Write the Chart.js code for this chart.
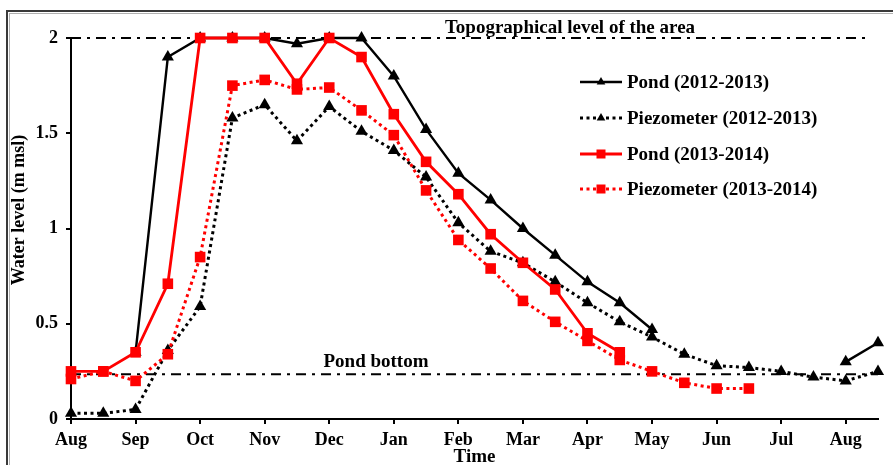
<!DOCTYPE html>
<html>
<head>
<meta charset="utf-8">
<style>
  html, body { margin: 0; padding: 0; background: #fff; }
  #wrap { width: 893px; height: 465px; }
</style>
<script src="https://cdn.jsdelivr.net/npm/chart.js@4/dist/chart.umd.min.js"></script>
</head>
<body>
<div id="wrap"><canvas id="c" width="893" height="465"></canvas></div>
<script>
// Half-month steps from August to the following August (0 = Aug, 24 = Aug)
const monthLabels = ['Aug', 'Sep', 'Oct', 'Nov', 'Dec', 'Jan', 'Feb', 'Mar', 'Apr', 'May', 'Jun', 'Jul', 'Aug'];
const yTicks = [0, 0.5, 1, 1.5, 2];

// Water levels (m msl), one value per half month, null where not measured
const pond1213  = [null, null, 0.35, 1.90, 2.00, 2.00, 2.00, 1.97, 2.00, 2.00, 1.80, 1.52, 1.29, 1.15, 1.00, 0.86, 0.72, 0.61, 0.47, null, null, null, null, null, 0.30, 0.40];
const piezo1213 = [0.03, 0.03, 0.05, 0.36, 0.59, 1.58, 1.65, 1.46, 1.64, 1.51, 1.41, 1.27, 1.03, 0.88, 0.82, 0.72, 0.61, 0.51, 0.43, 0.34, 0.28, 0.27, 0.25, 0.22, 0.20, 0.25];
const pond1314  = [0.25, 0.25, 0.35, 0.71, 2.00, 2.00, 2.00, 1.76, 2.00, 1.90, 1.60, 1.35, 1.18, 0.97, 0.82, 0.68, 0.45, 0.35];
const piezo1314 = [0.21, 0.25, 0.20, 0.34, 0.85, 1.75, 1.78, 1.73, 1.74, 1.62, 1.49, 1.20, 0.94, 0.79, 0.62, 0.51, 0.41, 0.31, 0.25, 0.19, 0.16, 0.16];

// Reference levels
const topoLevel = 2.0;
const pondBottom = 0.235;

const seriesNames = ['Pond (2012-2013)', 'Piezometer (2012-2013)', 'Pond (2013-2014)', 'Piezometer (2013-2014)'];

const toPoints = arr => arr.map((v, i) => ({ x: i, y: v }));

const SERIF = '"Liberation Serif", "Times New Roman", serif';
const RED = '#ff0000';
const DASH_DOT = [10, 6, 3, 6];

function series(label, values, color, dotted, shape, order) {
  return {
    label: label,
    data: toPoints(values),
    borderColor: color,
    backgroundColor: color,
    borderWidth: dotted ? 3 : (color === RED ? 2.8 : 2.4),
    borderDash: dotted ? [3, 3.5] : [],
    pointStyle: shape,
    pointRadius: shape === 'rect' ? 7.5 : 7,
    pointBorderWidth: 0,
    pointBackgroundColor: color,
    tension: 0,
    spanGaps: false,
    clip: false,
    order: order,
    isSeries: true
  };
}

function refLine(label, y, xEnd) {
  return {
    label: label,
    data: [{ x: 0, y: y }, { x: xEnd, y: y }],
    borderColor: '#000',
    borderWidth: 2,
    borderDash: DASH_DOT,
    pointRadius: 0,
    clip: false,
    order: 5
  };
}

const datasets = [
  series(seriesNames[0], pond1213, '#000', false, 'triangle', 2),
  series(seriesNames[1], piezo1213, '#000', true, 'triangle', 3),
  series(seriesNames[2], pond1314, RED, false, 'rect', 0),
  series(seriesNames[3], piezo1314, RED, true, 'rect', 1),
  refLine('Topographical level of the area', topoLevel, 24.75),
  refLine('Pond bottom', pondBottom, 25)
];

// Texts, legend and frame drawn around the plot
const decorations = {
  id: 'decorations',
  beforeDraw(chart) {
    const ctx = chart.ctx;
    ctx.save();
    ctx.fillStyle = '#fff';
    ctx.fillRect(0, 0, chart.width, chart.height);
    ctx.strokeStyle = '#3a3a3a';
    ctx.lineWidth = 2;
    ctx.strokeRect(7, 11, 950, 520);
    ctx.strokeStyle = '#b0b0b0';
    ctx.lineWidth = 1;
    ctx.strokeRect(9.5, 13.5, 950, 520);
    ctx.restore();
  },
  afterDraw(chart) {
    const ctx = chart.ctx;
    const area = chart.chartArea;
    const xs = chart.scales.x, ys = chart.scales.y;
    ctx.save();
    ctx.fillStyle = '#000';

    // axis titles
    ctx.font = 'bold 19px ' + SERIF;
    ctx.textAlign = 'center';
    ctx.textBaseline = 'alphabetic';
    ctx.fillText('Time', (area.left + area.right) / 2, 462);
    ctx.save();
    ctx.translate(24, 210);
    ctx.rotate(-Math.PI / 2);
    ctx.font = 'bold 18px ' + SERIF;
    ctx.fillText('Water level (m msl)', 0, 0);
    ctx.restore();

    // reference line labels
    ctx.font = 'bold 19px ' + SERIF;
    ctx.fillText('Topographical level of the area', 570, ys.getPixelForValue(topoLevel) - 5);
    ctx.fillText('Pond bottom', 376, ys.getPixelForValue(pondBottom) - 7);

    // legend
    const lx0 = 580, lx1 = 622, tx = 627;
    const rows = [82, 118, 154, 189];
    chart.data.datasets.filter(d => d.isSeries).forEach((d, i) => {
      const y = rows[i];
      ctx.save();
      ctx.strokeStyle = d.borderColor;
      ctx.lineWidth = d.borderWidth;
      ctx.setLineDash(d.borderDash);
      ctx.beginPath();
      ctx.moveTo(lx0, y);
      ctx.lineTo(lx1, y);
      ctx.stroke();
      ctx.setLineDash([]);
      ctx.fillStyle = d.borderColor;
      const cx = (lx0 + lx1) / 2;
      if (d.pointStyle === 'triangle') {
        const r = 5;
        ctx.beginPath();
        ctx.moveTo(cx, y - r);
        ctx.lineTo(cx + r * 0.866, y + r * 0.5);
        ctx.lineTo(cx - r * 0.866, y + r * 0.5);
        ctx.closePath();
        ctx.fill();
      } else {
        ctx.fillRect(cx - 4.5, y - 4.5, 9, 9);
      }
      ctx.restore();
      ctx.font = 'bold 19px ' + SERIF;
      ctx.textAlign = 'left';
      ctx.textBaseline = 'middle';
      ctx.fillText(d.label, tx, y + 1);
    });
    ctx.restore();
  }
};

new Chart(document.getElementById('c'), {
  type: 'line',
  data: { datasets: datasets },
  options: {
    responsive: false,
    animation: false,
    layout: { padding: { top: 38, right: 15, left: 0, bottom: 0 } },
    plugins: { legend: { display: false }, tooltip: { enabled: false } },
    scales: {
      x: {
        type: 'linear',
        min: 0,
        max: 25,
        afterBuildTicks(scale) {
          scale.ticks = monthLabels.map((_, i) => ({ value: i * 2 }));
        },
        afterFit(scale) { scale.height = 46; },
        ticks: {
          autoSkip: false,
          maxRotation: 0,
          padding: 6,
          color: '#000',
          font: { family: SERIF, size: 18, weight: 'bold' },
          callback: v => monthLabels[v / 2]
        },
        grid: { drawOnChartArea: false, drawTicks: true, tickLength: 5, color: '#000', lineWidth: 2 },
        border: { display: true, color: '#000', width: 2 }
      },
      y: {
        min: 0,
        max: 2,
        afterBuildTicks(scale) {
          scale.ticks = yTicks.map(v => ({ value: v }));
        },
        afterFit(scale) { scale.width = 71; },
        ticks: {
          padding: 8,
          color: '#000',
          font: { family: SERIF, size: 18, weight: 'bold' },
          callback: v => String(v)
        },
        grid: { drawOnChartArea: false, drawTicks: true, tickLength: 5, color: '#000', lineWidth: 2 },
        border: { display: true, color: '#000', width: 2 }
      }
    }
  },
  plugins: [decorations]
});
</script>
</body>
</html>
